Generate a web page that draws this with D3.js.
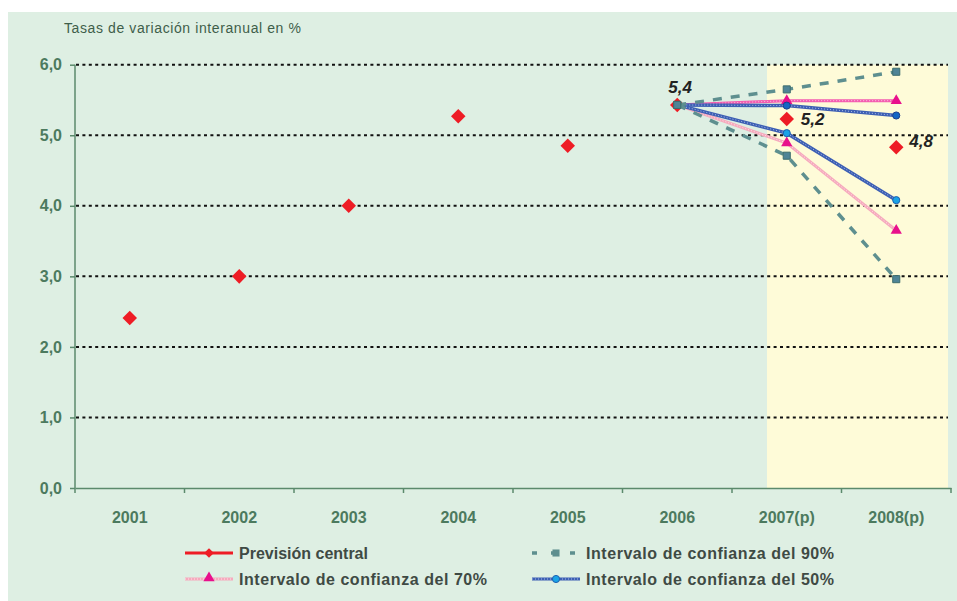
<!DOCTYPE html>
<html>
<head>
<meta charset="utf-8">
<script src="https://cdn.jsdelivr.net/npm/d3@7"></script>
<style>
  body { margin: 0; background: #ffffff; }
  svg { display: block; }
</style>
</head>
<body>
<script>
// data
var categories = ["2001", "2002", "2003", "2004", "2005", "2006", "2007(p)", "2008(p)"];
var central = [2.41, 3.0, 4.0, 5.27, 4.85, 5.43, 5.23, 4.83];
var centralLabels = ["", "", "", "", "", "5,4", "5,2", "4,8"];
var fanCats = ["2006", "2007(p)", "2008(p)"];
var ic90Upper = [5.43, 5.65, 5.9];
var ic90Lower = [5.43, 4.71, 2.96];
var ic70Upper = [5.43, 5.49, 5.49];
var ic70Lower = [5.43, 4.89, 3.65];
var ic50Upper = [5.43, 5.42, 5.28];
var ic50Lower = [5.43, 5.03, 4.08];
var yTicks = [0, 1, 2, 3, 4, 5, 6];

var W = 957, H = 601;
var svg = d3.select("body").append("svg").attr("width", W).attr("height", H);

// background panel
svg.append("rect").attr("x", 8).attr("y", 12).attr("width", W - 8).attr("height", H - 12)
    .attr("fill", "#deefe3");

var x = d3.scaleBand().domain(categories).range([75, 951]);
var y = d3.scaleLinear().domain([0, 6]).range([488, 64.7]);
var fmt = function (d) { return d3.format(".1f")(d).replace(".", ","); };

// forecast zone
svg.append("rect")
    .attr("x", 767).attr("y", y(6))
    .attr("width", 948 - 767).attr("height", y(0) - y(6))
    .attr("fill", "#fefbd8");

// title
svg.append("text").attr("x", 64).attr("y", 33)
    .attr("font-family", "Liberation Sans, Arial, sans-serif")
    .attr("font-size", 14).attr("fill", "#3e5e4a")
    .attr("letter-spacing", 0.6)
    .text("Tasas de variación interanual en %");

// gridlines
svg.append("g").selectAll("line")
    .data(yTicks.filter(function (d) { return d > 0; }))
    .enter().append("line")
    .attr("x1", 76).attr("x2", 948)
    .attr("y1", function (d) { return y(d); })
    .attr("y2", function (d) { return y(d); })
    .attr("stroke", "#111").attr("stroke-width", 2)
    .attr("stroke-dasharray", "3,3.4");

// axes
var axisColor = "#5b8a6c";
var yAxis = svg.append("g").attr("transform", "translate(75,0)")
    .call(d3.axisLeft(y).tickValues(yTicks).tickFormat(fmt).tickSize(5).tickPadding(8));
var xAxis = svg.append("g").attr("transform", "translate(0," + y(0) + ")")
    .call(d3.axisBottom(x).tickSize(0).tickPadding(24));
[yAxis, xAxis].forEach(function (g) {
    g.select(".domain").attr("stroke", axisColor).attr("stroke-width", 1.5);
    g.selectAll(".tick line").attr("stroke", axisColor).attr("stroke-width", 1.5);
    g.selectAll("text").attr("fill", "#4c7a5e")
        .attr("font-family", "Liberation Sans, Arial, sans-serif")
        .attr("font-weight", "bold").attr("font-size", 16);
});
yAxis.select(".domain").attr("d", "M0," + y(6) + "V" + y(0));
// band boundary ticks on x axis
xAxis.selectAll("line.bound")
    .data(categories.concat(["end"]))
    .enter().append("line").attr("class", "bound")
    .attr("x1", function (d, i) { return x.range()[0] + i * x.bandwidth(); })
    .attr("x2", function (d, i) { return x.range()[0] + i * x.bandwidth(); })
    .attr("y1", 0).attr("y2", 5)
    .attr("stroke", axisColor).attr("stroke-width", 1.5);

function cx(c) { return x(c) + x.bandwidth() / 2; }

var diamond = d3.symbol().type(d3.symbolDiamond2).size(135);
var square = d3.symbol().type(d3.symbolSquare).size(50);
var tri = d3.symbol().type(d3.symbolTriangle).size(55);
var circ = d3.symbol().type(d3.symbolCircle).size(40);

// central forecast points
svg.append("g").selectAll("path")
    .data(central).enter().append("path")
    .attr("d", diamond)
    .attr("transform", function (d, i) { return "translate(" + cx(categories[i]) + "," + y(d) + ")"; })
    .attr("fill", "#ee1c25");

var line = d3.line()
    .x(function (d, i) { return cx(fanCats[i]); })
    .y(function (d) { return y(d); });

function textured(data, color, width, tex) {
    svg.append("path").attr("d", line(data)).attr("fill", "none")
        .attr("stroke", color).attr("stroke-width", width);
    svg.append("path").attr("d", line(data)).attr("fill", "none")
        .attr("stroke", tex).attr("stroke-width", 1).attr("stroke-dasharray", "1,2");
}
function markers(data, sym, fill, stroke, from) {
    svg.append("g").selectAll("path")
        .data(data.slice(from)).enter().append("path")
        .attr("d", sym)
        .attr("transform", function (d, i) { return "translate(" + cx(fanCats[i + from]) + "," + y(d) + ")"; })
        .attr("fill", fill).attr("stroke", stroke).attr("stroke-width", 1);
}

// 70%
textured(ic70Lower, "#f6aabd", 3, "#fde3ea");
textured(ic70Upper, "#f45cb0", 3, "#fbc3e0");
// 50%
textured(ic50Upper, "#3d5fb4", 3.5, "#a9bde6");
textured(ic50Lower, "#3d5fb4", 3.5, "#a9bde6");
markers(ic70Upper, tri, "#e8108c", "none", 1);
markers(ic70Lower, tri, "#e8108c", "none", 1);
markers(ic50Upper, circ, "#1466c4", "#1d3f8f", 1);
markers(ic50Lower, circ, "#1aa3e6", "#1d5fb0", 1);
// 90%
[ic90Upper, ic90Lower].forEach(function (s) {
    svg.append("path").attr("d", line(s)).attr("fill", "none")
        .attr("stroke", "#5e8f8f").attr("stroke-width", 3.5)
        .attr("stroke-dasharray", "9,9");
    markers(s, square, "#4f8496", "#3d6d6d", 0);
});

// value labels
svg.append("g").selectAll("text")
    .data(central).enter().append("text")
    .filter(function (d, i) { return centralLabels[i] !== ""; })
    .attr("x", function (d) {
        var i = central.indexOf(d);
        return cx(categories[i]) + [0, 0, 0, 0, 0, -9, 14, 13][i];
    })
    .attr("y", function (d) {
        var i = central.indexOf(d);
        return y(d) + [0, 0, 0, 0, 0, -12, 6, 0][i];
    })
    .attr("font-family", "Liberation Sans, Arial, sans-serif")
    .attr("font-style", "italic").attr("font-weight", "bold")
    .attr("font-size", 17).attr("fill", "#222")
    .text(function (d) { return centralLabels[central.indexOf(d)]; });

// legend
var legend = [
    { name: "Previsión central", x: 185, y: 553, kind: "central", ls: 0 },
    { name: "Intervalo de confianza del 90%", x: 532, y: 553, kind: "90", ls: 0.55 },
    { name: "Intervalo de confianza del 70%", x: 185, y: 579, kind: "70", ls: 0.55 },
    { name: "Intervalo de confianza del 50%", x: 532, y: 579, kind: "50", ls: 0.55 }
];
legend.forEach(function (l) {
    var g = svg.append("g").attr("transform", "translate(" + l.x + "," + l.y + ")");
    if (l.kind === "central") {
        g.append("line").attr("x1", 0).attr("x2", 48).attr("stroke", "#ee1c25").attr("stroke-width", 3);
        g.append("path").attr("d", d3.symbol().type(d3.symbolDiamond2).size(60)).attr("transform", "translate(24,0)").attr("fill", "#ee1c25");
    } else if (l.kind === "90") {
        g.append("line").attr("x1", 0).attr("x2", 48).attr("stroke", "#5e8f8f").attr("stroke-width", 3.5).attr("stroke-dasharray", "5,14");
        g.append("path").attr("d", square).attr("transform", "translate(24,0)").attr("fill", "#5e8f8f");
    } else if (l.kind === "70") {
        g.append("line").attr("x1", 0).attr("x2", 48).attr("stroke", "#f6aabd").attr("stroke-width", 3);
        g.append("line").attr("x1", 0).attr("x2", 48).attr("stroke", "#fde3ea").attr("stroke-width", 1).attr("stroke-dasharray", "1,2");
        g.append("path").attr("d", tri).attr("transform", "translate(24,-1)").attr("fill", "#e8108c");
    } else {
        g.append("line").attr("x1", 0).attr("x2", 48).attr("stroke", "#3d5fb4").attr("stroke-width", 3);
        g.append("line").attr("x1", 0).attr("x2", 48).attr("stroke", "#a9bde6").attr("stroke-width", 1).attr("stroke-dasharray", "1,2");
        g.append("path").attr("d", circ).attr("transform", "translate(24,0)").attr("fill", "#1aa3e6").attr("stroke", "#1d5fb0");
    }
    g.append("text").attr("x", 54).attr("y", 6)
        .attr("font-family", "Liberation Sans, Arial, sans-serif")
        .attr("font-weight", "bold").attr("font-size", 16).attr("fill", "#3f4a44")
        .attr("letter-spacing", l.ls)
        .text(l.name);
});
</script>
</body>
</html>
